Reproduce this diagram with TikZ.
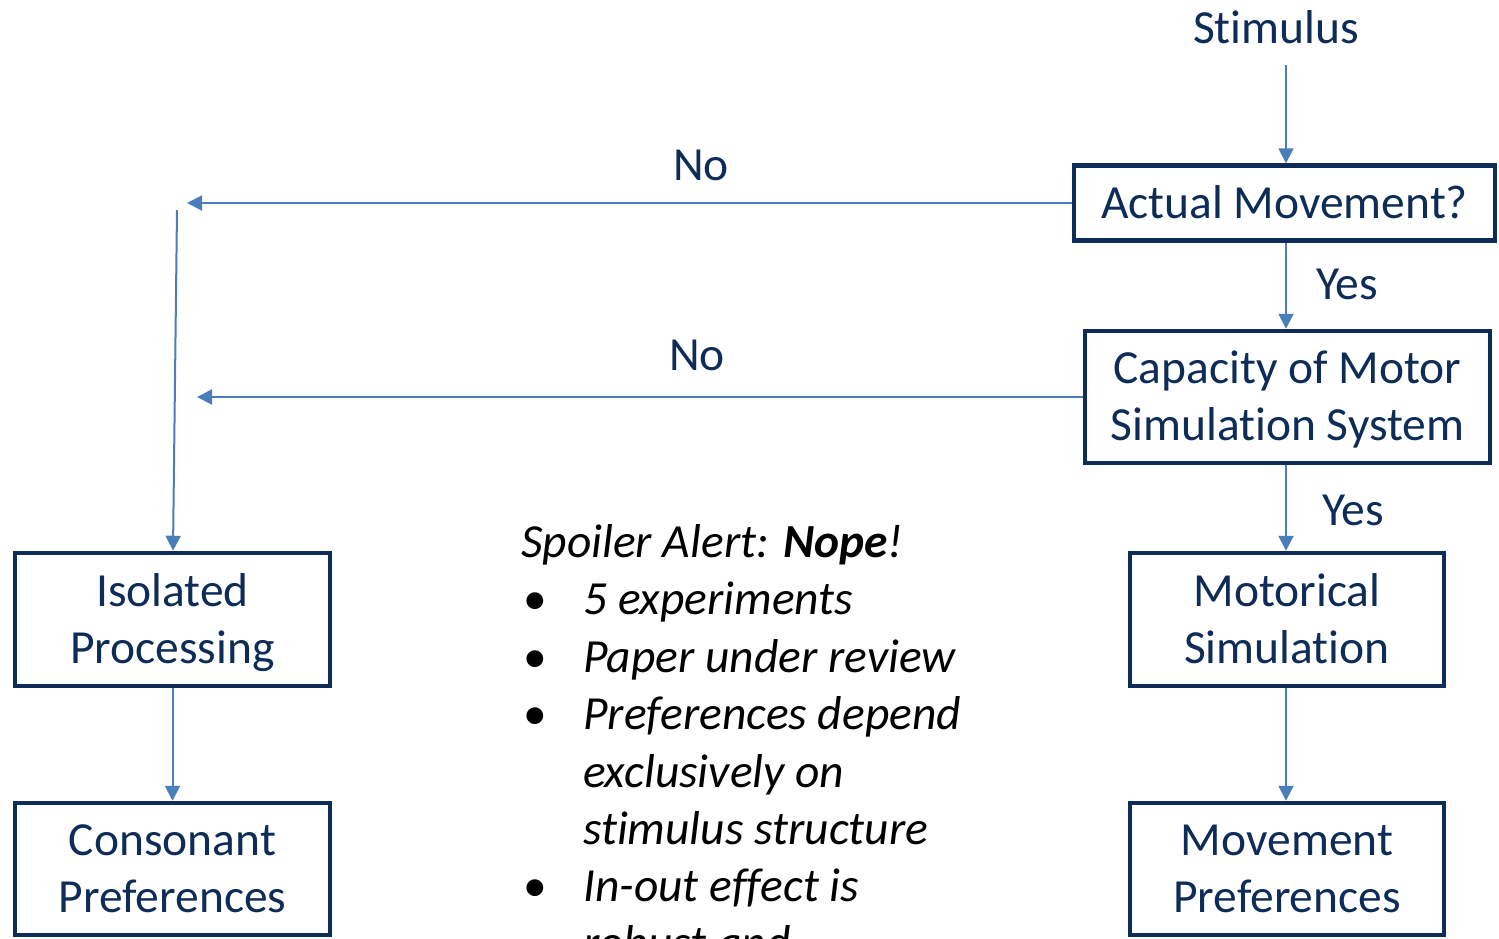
\documentclass[tikz,border=0pt]{standalone}
\usepackage{fontspec}
\setmainfont{Carlito}[Ligatures=NoCommon]
\usetikzlibrary{arrows.meta}
\definecolor{navy}{HTML}{0D2C57}
\definecolor{arrowblue}{HTML}{4A7EBB}
\newcommand{\diafont}{\fontsize{47.5}{57}\selectfont}
\newcommand{\bxs}{\rule[-10pt]{0pt}{50.6pt}}
\begin{document}
\begin{tikzpicture}[x=1pt,y=-1pt,
  box/.style={draw=navy, line width=4.5pt, text=navy, align=center, inner sep=0pt, font=\diafont},
  arr/.style={draw=arrowblue, line width=2pt, -{Triangle[length=15pt,width=15pt]}},
  lbl/.style={text=navy, font=\diafont, inner sep=0pt},
  txt/.style={text=black, font=\diafont\itshape, inner sep=0pt, anchor=base west}]
\useasboundingbox (0,0) rectangle (1499,938);
\clip (0,0) rectangle (1499,938);
% boxes
\node[box, minimum width=421pt, minimum height=75pt] (act) at (1284.5,203) {\bxs Actual Movement?};
\node[box, minimum width=405pt, minimum height=132pt] (cap) at (1287.5,397) {\bxs Capacity of Motor\\\bxs Simulation System};
\node[box, minimum width=314pt, minimum height=133pt] (mot) at (1287,619.5) {\bxs Motorical\\\bxs Simulation};
\node[box, minimum width=314pt, minimum height=132pt] (mpref) at (1287,869) {\bxs Movement\\\bxs Preferences};
\node[box, minimum width=315pt, minimum height=133pt] (iso) at (172.5,619.5) {\bxs Isolated\\\bxs Processing};
\node[box, minimum width=315pt, minimum height=132pt] (cpref) at (172.5,869) {\bxs Consonant\\\bxs Preferences};
% labels
\node[lbl] (stim) at (1276,27) {Stimulus};
\node[lbl] (no1) at (701,165) {No};
\node[lbl] (no2) at (697,355) {No};
\node[lbl] (yes1) at (1347,284) {Yes};
\node[lbl] (yes2) at (1353,510) {Yes};
% helper coordinates
\coordinate (s1) at (1286,65);
\coordinate (c1) at (187,203);
\coordinate (c2) at (197,397);
\coordinate (c3) at (177,210);
\coordinate (c4) at (173,550);
% connectors
\draw[arr] (s1) -- (s1 |- act.north);
\draw[arr] (s1 |- act.south) -- (s1 |- cap.north);
\draw[arr] (s1 |- cap.south) -- (s1 |- mot.north);
\draw[arr] (s1 |- mot.south) -- (s1 |- mpref.north);
\draw[arr] (iso.south) -- (cpref.north);
\draw[arr] (act.west) -- (c1);
\draw[arr] (cap.west) -- (c2);
\draw[arr] (c3) -- (c4 |- iso.north);
% text block
\node[txt] (t0) at (521,557) {Spoiler Alert: \textbf{Nope}!};
\node[txt] (b1) at (523,614.5) {\upshape •};
\node[txt] (t1) at (583,614.5) {5 experiments};
\node[txt] (b2) at (523,672) {\upshape •};
\node[txt] (t2) at (583,672) {Paper under review};
\node[txt] (b3) at (523,729.5) {\upshape •};
\node[txt] (t3) at (583,729.5) {Preferences depend};
\node[txt] (t4) at (583,787) {exclusively on};
\node[txt] (t5) at (583,844) {stimulus structure};
\node[txt] (b4) at (523,901) {\upshape •};
\node[txt] (t6) at (583,901) {In-out effect is};
\node[txt] (t7) at (583,958) {robust and};
\end{tikzpicture}
\end{document}
